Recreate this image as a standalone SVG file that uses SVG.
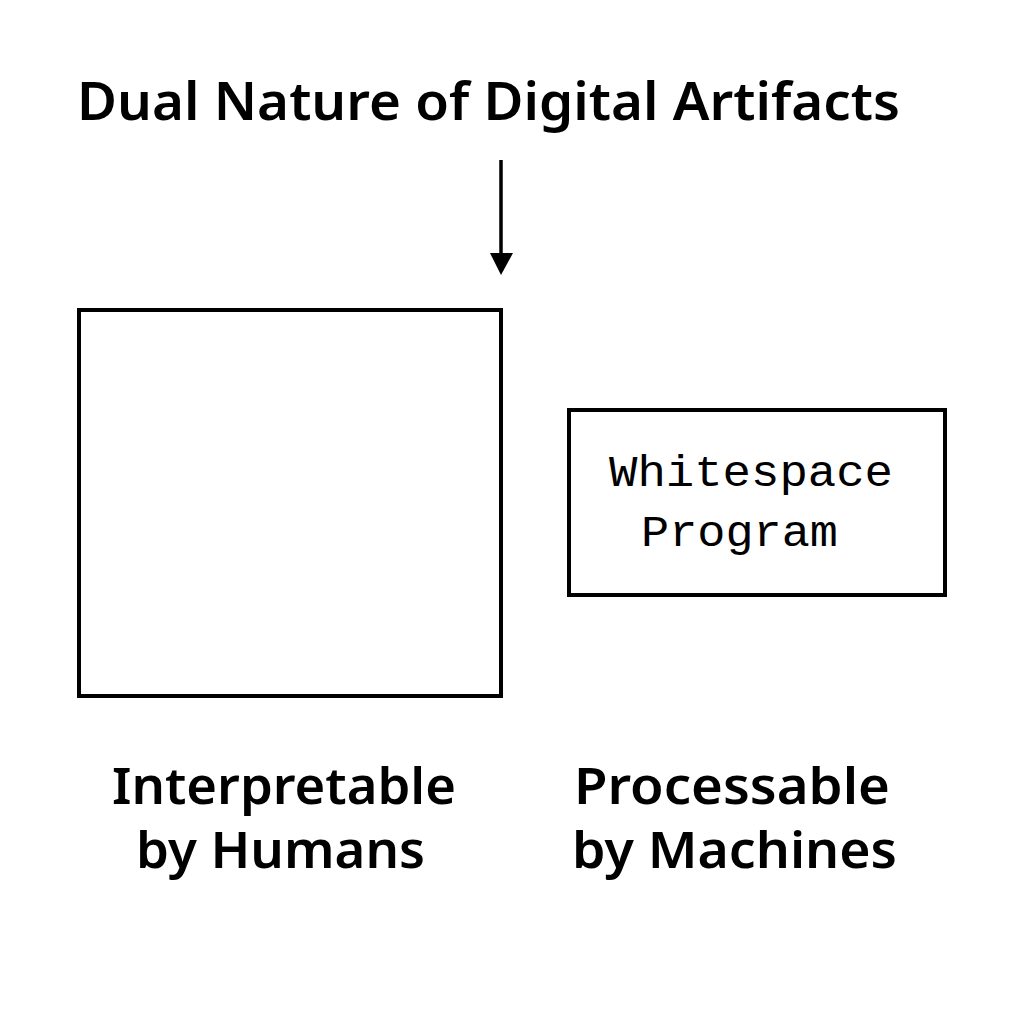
<svg xmlns="http://www.w3.org/2000/svg" width="1024" height="1024" viewBox="0 0 1024 1024">
<defs>
<style>
.t{font-family:"Noto Sans","Liberation Sans",sans-serif;font-weight:600;fill:#000;}
.box{fill:#fff;stroke:#000;stroke-width:4;}
.mono{font-family:"Liberation Mono","DejaVu Sans Mono",monospace;fill:#000;}
</style>
</defs>
<rect width="1024" height="1024" fill="#fff"/>
<g id="title"><text class="t" x="77" y="120" font-size="53" textLength="823" lengthAdjust="spacingAndGlyphs">Dual Nature of Digital Artifacts</text></g>
<g id="connectors">
<line x1="501" y1="160" x2="501" y2="256" stroke="#000" stroke-width="3.5"/>
<path d="M490,253 L513,253 L501,275 Z" fill="#000"/>
</g>
<g id="human-box"><rect class="box" x="79" y="310" width="422" height="386"/></g>
<g id="machine-box"><rect class="box" x="569" y="410" width="376" height="185"/>
<text class="mono" x="609" y="486" font-size="44" textLength="284" lengthAdjust="spacingAndGlyphs">Whitespace</text>
<text class="mono" x="641" y="546" font-size="44" textLength="197" lengthAdjust="spacingAndGlyphs">Program</text>
</g>
<g id="human-label">
<text class="t" x="112" y="804" font-size="50" textLength="344" lengthAdjust="spacingAndGlyphs">Interpretable</text>
<text class="t" x="136" y="868" font-size="50" textLength="289" lengthAdjust="spacingAndGlyphs">by Humans</text>
</g>
<g id="machine-label">
<text class="t" x="574" y="804" font-size="50" textLength="316" lengthAdjust="spacingAndGlyphs">Processable</text>
<text class="t" x="572" y="868" font-size="50" textLength="325" lengthAdjust="spacingAndGlyphs">by Machines</text>
</g>
</svg>
